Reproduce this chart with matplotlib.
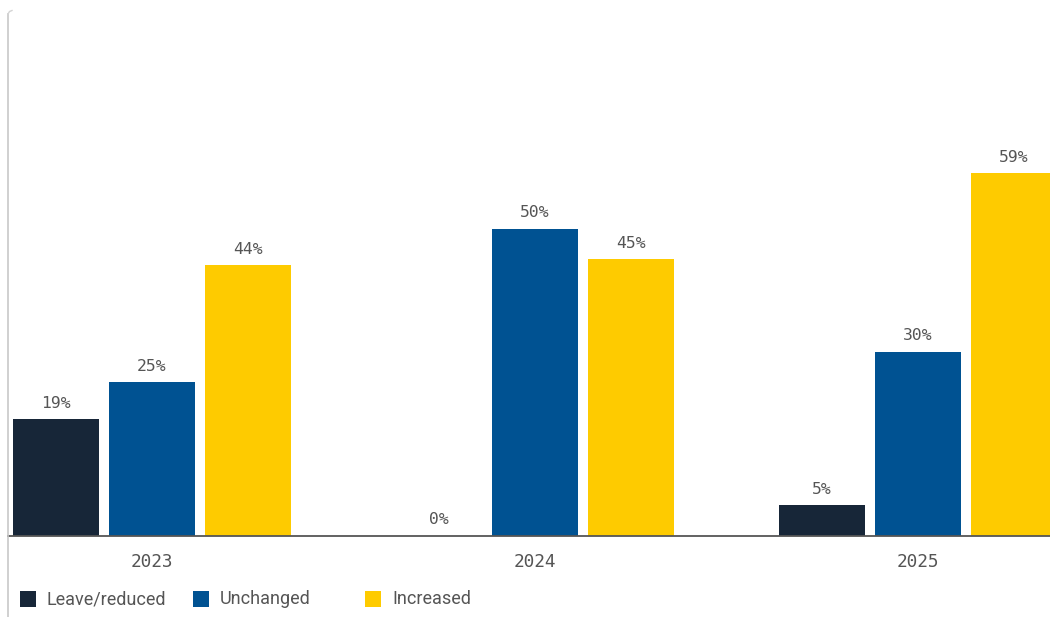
import matplotlib.pyplot as plt
import numpy as np
from matplotlib.lines import Line2D
from matplotlib.patches import Rectangle

# Share of respondents by year and response
years = ['2023', '2024', '2025']
series = ['Leave/reduced', 'Unchanged', 'Increased']
leave_reduced = [19, 0, 5]
unchanged = [25, 50, 30]
increased = [44, 45, 59]
colors = ['#172638', '#005292', '#FECB00']

values = [leave_reduced, unchanged, increased]

W, H = 1050, 617
fig = plt.figure(figsize=(W / 100, H / 100), dpi=100)

# plot area in pixel terms: left edge 8, baseline at y=536, top at y=12
px_per_unit = 6.15
left_px, right_px = 8, 1050
base_px, top_px = 536, 12
ax = fig.add_axes([left_px / W, (H - base_px) / H,
                   (right_px - left_px) / W, (base_px - top_px) / H])

spacing = 383.0
first_center = 152.0
bar_w = 86 / spacing
offset = 96 / spacing
x = np.arange(len(years))

for i, (name, vals, col) in enumerate(zip(series, values, colors)):
    xs = x + (i - 1) * offset
    ax.bar(xs, vals, width=bar_w, color=col, edgecolor='none', zorder=2)
    for xi, v in zip(xs, vals):
        ax.text(xi, v + 1.4, f'{v}%', ha='center', va='bottom',
                family='DejaVu Sans Mono', fontsize=11.8, color='#555555')

ax.set_xlim((left_px - first_center) / spacing, (right_px - first_center) / spacing)
ax.set_ylim(0, (base_px - top_px) / px_per_unit)

for s in ['top', 'right', 'left']:
    ax.spines[s].set_visible(False)
ax.spines['bottom'].set_color('#555555')
ax.spines['bottom'].set_linewidth(1.3)
ax.spines['bottom'].set_zorder(3)
ax.set_yticks([])
ax.set_xticks(x)
ax.set_xticklabels(years, family='DejaVu Sans Mono', fontsize=12.8, color='#555555')
ax.tick_params(axis='x', length=0, pad=12)

# thin frame line down the left side, with a small rounded corner at the top
fig.add_artist(Line2D([left_px / W, left_px / W], [0, (H - top_px - 2) / H],
                      color='#c8c8c8', lw=1.2))
fig.add_artist(Line2D([left_px / W, (left_px + 1.5) / W, (left_px + 4) / W],
                      [(H - top_px - 2) / H, (H - top_px + 0.5) / H, (H - top_px + 1.5) / H],
                      color='#d4d4d4', lw=1.0))

# legend: swatch + label, each entry on a fixed-width slot
slot_px = 172.5
sq = 16
for i, (name, col) in enumerate(zip(series, colors)):
    x0 = 20 + i * slot_px
    fig.add_artist(Rectangle((x0 / W, (H - 599 - sq / 2) / H), sq / W, sq / H,
                             facecolor=col, edgecolor='none'))
    fig.text((x0 + 27) / W, (H - 599) / H, name, ha='left', va='center',
             family='Roboto', fontsize=13, color='#555555')

fig.savefig('out.png', dpi=100)
